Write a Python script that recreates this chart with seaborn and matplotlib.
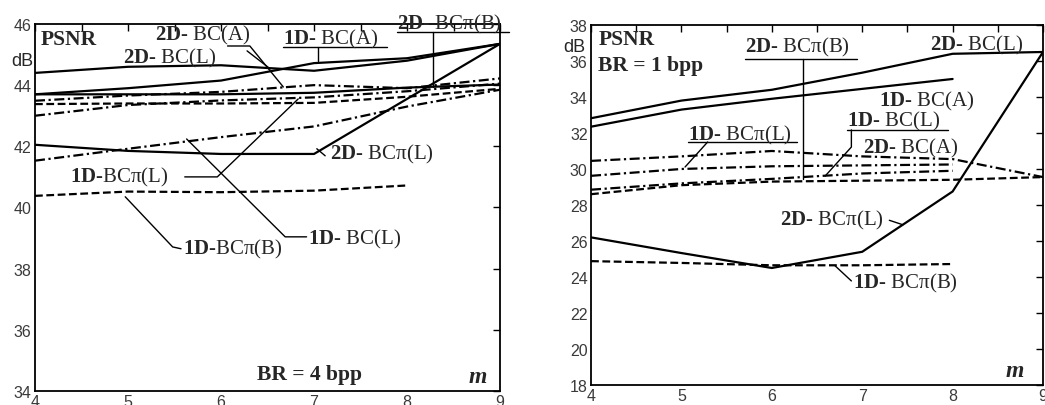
"""
plot.py
PSNR versus m for the BC / BCπ coders at two bit rates (4 bpp and 1 bpp).
"""

import matplotlib

matplotlib.use("Agg")
import matplotlib.pyplot as plt
import pandas as pd
import seaborn as sns

# --- Data ---
M_FULL = [4, 5, 6, 7, 8, 9]
M_SHORT = [4, 5, 6, 7, 8]

# BR = 4 bpp (left panel)
L_2D_BC_L = [44.40, 44.60, 44.65, 44.47, 44.80, 45.35]
L_1D_BC_A = [43.70, 43.90, 44.15, 44.72, 44.88, 45.35]
L_2D_BCP_L = [42.05, 41.85, 41.75, 41.75, 43.55, 45.35]
L_2D_BCP_B = [43.70, 43.70, 43.70, 43.75, 43.92, 44.02]
L_2D_BC_A = [43.49, 43.66, 43.78, 44.00, 43.90, 44.22]
L_DASHED_MID = [43.38, 43.40, 43.40, 43.42, 43.62, 43.88]
L_1D_BCP_L = [43.00, 43.35, 43.50, 43.60, 43.80, 44.05]
L_1D_BC_L = [41.53, 41.92, 42.30, 42.65, 43.30, 43.85]
L_1D_BCP_B = [40.38, 40.52, 40.50, 40.55, 40.72]

# BR = 1 bpp (right panel)
R_2D_BC_L = [32.82, 33.80, 34.40, 35.35, 36.40, 36.50]
R_1D_BC_A = [32.35, 33.30, 33.90, 34.45, 35.00]
R_2D_BC_A = [30.45, 30.70, 31.00, 30.70, 30.55, 29.55]
R_1D_BCP_L = [29.62, 30.00, 30.15, 30.20, 30.25]
R_1D_BC_L = [28.85, 29.20, 29.45, 29.75, 29.90]
R_2D_BCP_B = [28.60, 29.10, 29.30, 29.35, 29.40, 29.55]
R_2D_BCP_L = [26.20, 25.33, 24.50, 25.40, 28.75, 36.50]
R_1D_BCP_B = [24.88, 24.78, 24.65, 24.65, 24.72]

LEFT_SERIES = [
    ("2D-BC(L)", "solid", M_FULL, L_2D_BC_L),
    ("1D-BC(A)", "solid", M_FULL, L_1D_BC_A),
    ("2D-BCπ(L)", "solid", M_FULL, L_2D_BCP_L),
    ("2D-BCπ(B)", "solid", M_FULL, L_2D_BCP_B),
    ("2D-BC(A)", "dashdot", M_FULL, L_2D_BC_A),
    ("mid", "dash", M_FULL, L_DASHED_MID),
    ("1D-BCπ(L)", "dashdot", M_FULL, L_1D_BCP_L),
    ("1D-BC(L)", "dashdot", M_FULL, L_1D_BC_L),
    ("1D-BCπ(B)", "dash", M_SHORT, L_1D_BCP_B),
]
RIGHT_SERIES = [
    ("2D-BC(L)", "solid", M_FULL, R_2D_BC_L),
    ("1D-BC(A)", "solid", M_SHORT, R_1D_BC_A),
    ("2D-BC(A)", "dashdot", M_FULL, R_2D_BC_A),
    ("1D-BCπ(L)", "dashdot", M_SHORT, R_1D_BCP_L),
    ("1D-BC(L)", "dashdot", M_SHORT, R_1D_BC_L),
    ("2D-BCπ(B)", "dash", M_FULL, R_2D_BCP_B),
    ("2D-BCπ(L)", "solid", M_FULL, R_2D_BCP_L),
    ("1D-BCπ(B)", "dash", M_SHORT, R_1D_BCP_B),
]

DASHES = {"solid": "", "dash": (3.5, 1.6), "dashdot": (4.5, 1.6, 1.0, 1.6)}

# curve labels: (x, y, text, underline (x0, x1, y) or None)
LEFT_LABELS = [
    (5.29, 45.67, r"$\mathbf{2D}$- BC(A)", None),
    (4.95, 44.92, r"$\mathbf{2D}$- BC(L)", None),
    (6.67, 45.51, r"$\mathbf{1D}$- BC(A)", (6.67, 7.78, 45.25)),
    (7.89, 46.03, r"$\mathbf{2D}$- BCπ(B)", (7.89, 9.10, 45.74)),
    (7.17, 41.75, r"$\mathbf{2D}$- BCπ(L)", None),
    (4.38, 41.00, r"$\mathbf{1D}$-BCπ(L)", None),
    (6.94, 38.97, r"$\mathbf{1D}$- BC(L)", None),
    (5.59, 38.65, r"$\mathbf{1D}$-BCπ(B)", None),
]
LEFT_LEADERS = [
    ([7.04, 7.04], [45.25, 44.79]),
    ([8.28, 8.28], [45.74, 43.94]),
    ([6.07, 6.31, 6.67], [45.28, 45.28, 43.94]),
    ([6.28, 6.53], [45.12, 44.53]),
    ([7.03, 7.12], [41.92, 41.69]),
    ([5.61, 5.96, 6.83], [41.00, 41.00, 43.55]),
    ([6.92, 6.69, 5.63], [39.04, 39.04, 42.24]),
    ([5.57, 5.48, 4.97], [38.65, 38.71, 40.35]),
]
RIGHT_LABELS = [
    (5.70, 36.78, r"$\mathbf{2D}$- BCπ(B)", (5.70, 6.94, 36.11)),
    (7.75, 36.94, r"$\mathbf{2D}$- BC(L)", None),
    (7.18, 33.78, r"$\mathbf{1D}$- BC(A)", None),
    (6.83, 32.67, r"$\mathbf{1D}$- BC(L)", (6.83, 7.95, 32.17)),
    (7.01, 31.17, r"$\mathbf{2D}$- BC(A)", None),
    (5.07, 31.94, r"$\mathbf{1D}$- BCπ(L)", (5.07, 6.28, 31.50)),
    (6.09, 27.22, r"$\mathbf{2D}$- BCπ(L)", None),
    (6.90, 23.72, r"$\mathbf{1D}$- BCπ(B)", None),
]
RIGHT_LEADERS = [
    ([6.35, 6.35], [36.11, 29.44]),
    ([6.88, 6.88, 6.59], [32.17, 31.22, 29.61]),
    ([5.29, 5.04], [31.50, 30.11]),
    ([7.30, 7.45], [27.15, 26.90]),
    ([6.88, 6.70], [23.78, 24.62]),
]

SERIF = "Liberation Serif"
SANS = "Liberation Sans"


def long_table(series):
    rows = []
    for name, kind, ms, vals in series:
        for m, v in zip(ms, vals):
            rows.append({"curve": name, "kind": kind, "m": m, "psnr": v})
    return pd.DataFrame(rows)


def style_axes(ax, ylim, yticks):
    ax.set_xlim(4, 9)
    ax.set_ylim(*ylim)
    ax.set_xticks(M_FULL)
    ax.set_xticks([4.5, 5.5, 6.5, 7.5, 8.5], minor=True)
    ax.set_yticks(yticks)
    ax.tick_params(which="both", direction="in", top=True, right=True,
                   length=5, width=1.0, color="black")
    ax.tick_params(axis="y", which="minor", left=False, right=False)
    ax.tick_params(axis="both", labelsize=11.5, labelcolor="#3a3a3a", pad=2.5)
    for lab in ax.get_xticklabels() + ax.get_yticklabels():
        lab.set_fontfamily(SANS)
    for sp in ax.spines.values():
        sp.set_visible(True)
        sp.set_color("black")
        sp.set_linewidth(1.3)
    ax.set_xlabel("")
    ax.set_ylabel("")


def draw_panel(ax, series, labels, leaders):
    df = long_table(series)
    sns.lineplot(data=df, x="m", y="psnr", units="curve", estimator=None,
                 style="kind", dashes=DASHES, color="black", linewidth=1.6,
                 legend=False, ax=ax)
    for x, y, text, underline in labels:
        ax.text(x, y, text, fontsize=15, family=SERIF, ha="left", va="center")
        if underline is not None:
            x0, x1, yu = underline
            ax.plot([x0, x1], [yu, yu], color="black", lw=1.0, clip_on=False)
    for xs, ys in leaders:
        ax.plot(xs, ys, color="black", lw=1.0, clip_on=False)


def main():
    sns.set_style("white")
    plt.rcParams["mathtext.fontset"] = "custom"
    plt.rcParams["mathtext.rm"] = SERIF
    plt.rcParams["mathtext.bf"] = SERIF + ":bold"
    plt.rcParams["font.family"] = [SERIF, "DejaVu Sans"]

    fig = plt.figure(figsize=(10.45, 4.06), dpi=100)
    ax_l = fig.add_axes([0.0335, 0.0345, 0.445, 0.904])
    ax_r = fig.add_axes([0.5656, 0.0493, 0.4325, 0.8867])

    draw_panel(ax_l, LEFT_SERIES, LEFT_LABELS, LEFT_LEADERS)
    style_axes(ax_l, (34, 46), range(34, 47, 2))
    ax_l.text(4.06, 45.51, "PSNR", fontsize=15.5, weight="bold", family=SERIF,
              ha="left", va="center")
    ax_l.text(3.86, 44.79, "dB", fontsize=13, family=SANS, ha="center", va="center")
    ax_l.text(6.39, 34.56, "BR = 4 bpp", fontsize=15.5, weight="bold", family=SERIF,
              ha="left", va="center")
    ax_l.text(8.76, 34.46, "m", fontsize=17, weight="bold", style="italic",
              family=SERIF, ha="center", va="center")

    draw_panel(ax_r, RIGHT_SERIES, RIGHT_LABELS, RIGHT_LEADERS)
    style_axes(ax_r, (18, 38), range(18, 39, 2))
    ax_r.text(4.08, 37.22, "PSNR", fontsize=15.5, weight="bold", family=SERIF,
              ha="left", va="center")
    ax_r.text(4.08, 35.78, "BR = 1 bpp", fontsize=15.5, weight="bold", family=SERIF,
              ha="left", va="center")
    ax_r.text(3.82, 36.78, "dB", fontsize=13, family=SANS, ha="center", va="center")
    ax_r.text(8.69, 18.78, "m", fontsize=17, weight="bold", style="italic",
              family=SERIF, ha="center", va="center")

    fig.savefig("out.png", dpi=100)
    plt.close(fig)


if __name__ == "__main__":
    main()
